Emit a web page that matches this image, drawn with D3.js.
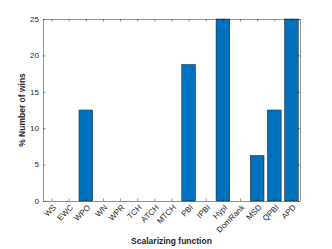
<!DOCTYPE html>
<html><head><meta charset="utf-8">
<script src="https://cdn.jsdelivr.net/npm/d3@7"></script>
<style>body{margin:0;background:#fff}svg{display:block}</style>
</head><body>
<script>
const categories = ["WS","EWC","WPO","WN","WPR","TCH","ATCH","MTCH","PBI","IPBI","HypI","DomRank","MSD","QPBI","APD"];
const values = [0,0,12.5,0,0,0,0,0,18.75,0,25,0,6.25,12.5,25];
const yTicks = [0,5,10,15,20,25];

const W=332,H=249;
const m={l:43,r:32,t:19,b:48};
const svg=d3.select("body").append("svg").attr("width",W).attr("height",H);
const x=d3.scaleLinear().domain([0.5,categories.length+0.5]).range([m.l,W-m.r]);
const y=d3.scaleLinear().domain([0,25]).range([H-m.b,m.t]);
const bw=(x(1)-x(0))*0.8;
const font="Liberation Sans, Arial, sans-serif";

svg.append("g").selectAll("rect").data(values).join("rect")
  .attr("x",(d,i)=>x(i+1)-bw/2).attr("width",bw)
  .attr("y",d=>y(d)).attr("height",d=>y(0)-y(d))
  .attr("fill","#0072BD").attr("stroke","#1a1a1a").attr("stroke-width",0.5)
  .attr("visibility",d=>d>0?"visible":"hidden");

const ax="#262626";
const g=svg.append("g");
// box
g.append("rect").attr("x",m.l+0.5).attr("y",m.t+0.5).attr("width",W-m.r-m.l).attr("height",H-m.b-m.t)
  .attr("fill","none").attr("stroke",ax).attr("stroke-width",0.5);
// y ticks
const yt=g.append("g").selectAll("g").data(yTicks).join("g");
yt.append("line").attr("x1",m.l).attr("x2",m.l+2.5).attr("y1",d=>y(d)+0.5).attr("y2",d=>y(d)+0.5).attr("stroke",ax).attr("stroke-width",0.5);
yt.append("line").attr("x1",W-m.r).attr("x2",W-m.r-2.5).attr("y1",d=>y(d)+0.5).attr("y2",d=>y(d)+0.5).attr("stroke",ax).attr("stroke-width",0.5);
yt.append("text").attr("x",m.l-4).attr("y",d=>y(d)).attr("dy","0.35em").attr("text-anchor","end")
  .attr("font-family",font).attr("font-size",8).attr("fill",ax).text(d=>d);
// x ticks
const xt=g.append("g").selectAll("g").data(categories).join("g");
xt.append("line").attr("x1",(d,i)=>x(i+1)+0.5).attr("x2",(d,i)=>x(i+1)+0.5).attr("y1",H-m.b).attr("y2",H-m.b-2.5).attr("stroke",ax).attr("stroke-width",0.5);
xt.append("line").attr("x1",(d,i)=>x(i+1)+0.5).attr("x2",(d,i)=>x(i+1)+0.5).attr("y1",m.t).attr("y2",m.t+2.5).attr("stroke",ax).attr("stroke-width",0.5);
xt.append("text").attr("transform",(d,i)=>`translate(${x(i+1)+3},${H-m.b+5}) rotate(-45)`)
  .attr("text-anchor","end").attr("dy","0.35em")
  .attr("font-family",font).attr("font-size",8).attr("fill",ax).text(d=>d);

svg.append("text").attr("x",(m.l+W-m.r)/2).attr("y",244).attr("text-anchor","middle")
  .attr("font-family",font).attr("font-size",8.5).attr("font-weight","bold").attr("fill",ax).text("Scalarizing function");
svg.append("text").attr("transform",`translate(25,${(m.t+H-m.b)/2}) rotate(-90)`).attr("text-anchor","middle")
  .attr("font-family",font).attr("font-size",8.5).attr("font-weight","bold").attr("fill",ax).text("% Number of wins");
</script>
</body></html>
